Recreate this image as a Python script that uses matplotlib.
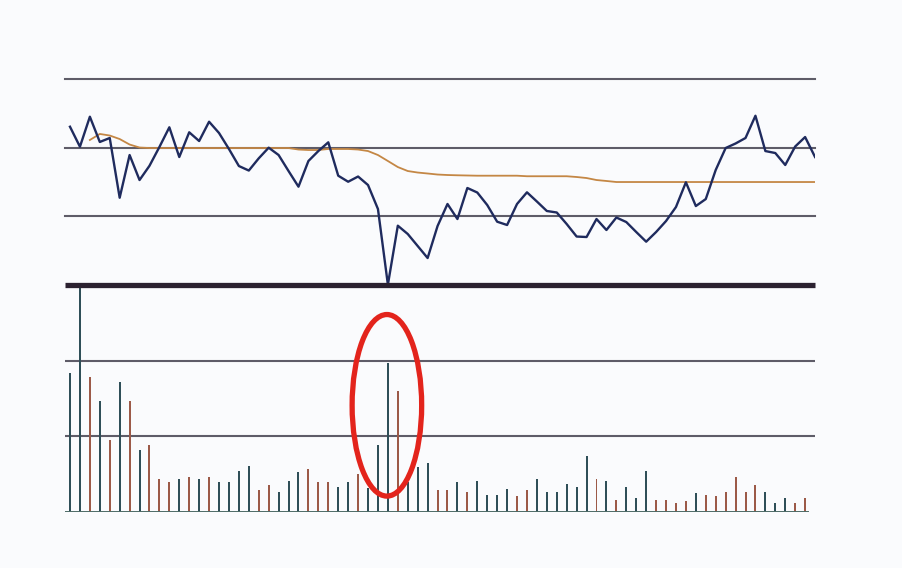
import matplotlib
matplotlib.use("Agg")
import matplotlib.pyplot as plt
from matplotlib.patches import Ellipse

# Price line (one point per trading day)
price = [33.05, 30.14, 34.51, 30.83, 31.41, 22.71, 28.93, 25.29, 27.36, 30.10,
         32.97, 28.64, 32.24, 30.97, 33.78, 32.14, 29.81, 27.33, 26.67, 28.45,
         30.00, 28.93, 26.60, 24.32, 28.06, 29.51, 30.78, 25.92, 25.04, 25.80,
         24.56, 21.07, 10.05, 18.64, 17.43, 15.68, 13.93, 18.59, 21.80, 19.61,
         24.13, 23.47, 21.65, 19.22, 18.74, 21.80, 23.50, 22.16, 20.78, 20.56,
         18.88, 17.06, 16.99, 19.61, 18.01, 19.83, 19.17, 17.72, 16.31, 17.72,
         19.32, 21.36, 24.96, 21.50, 22.52, 26.75, 29.95, 30.61, 31.41, 34.65,
         29.51, 29.22, 27.48, 30.17, 31.55, 28.64]

# Moving average line, starts on day 2
ma_start = 2
ma = [31.12, 32.00, 31.77, 31.26, 30.46, 30.02, 29.95, 29.95, 29.95, 29.95,
      29.95, 29.95, 29.95, 29.95, 29.95, 29.95, 29.95, 29.95, 29.95, 29.95,
      29.95, 29.73, 29.66, 29.66, 29.81, 29.81, 29.81, 29.73, 29.51, 28.93,
      28.06, 27.18, 26.60, 26.38, 26.24, 26.09, 26.02, 25.98, 25.95, 25.92,
      25.92, 25.92, 25.92, 25.92, 25.84, 25.84, 25.84, 25.84, 25.84, 25.73,
      25.58, 25.29, 25.15, 25.00, 25.00, 25.00, 25.00, 25.00, 25.00, 25.00,
      25.00, 25.00, 25.00, 25.00, 25.00, 25.00, 25.00, 25.00, 25.00, 25.00,
      25.00, 25.00, 25.00, 25.00]

# Volume bars
volume = [184.1, 320.0, 178.0, 147.1, 95.2, 171.4, 146.7, 81.9, 88.2, 43.6,
          39.3, 44.0, 46.3, 44.0, 46.3, 40.0, 39.3, 54.2, 60.4, 29.1,
          36.1, 26.0, 40.6, 53.3, 57.2, 39.6, 39.3, 33.0, 39.6, 49.8,
          31.3, 88.9, 197.3, 160.3, 40.0, 59.5, 64.4, 29.1, 29.1, 39.6,
          26.0, 40.6, 22.5, 22.5, 30.0, 21.5, 29.5, 44.0, 26.0, 26.0,
          36.6, 32.6, 74.4, 44.0, 40.6, 15.5, 33.0, 18.9, 54.2, 15.5,
          15.5, 12.3, 14.9, 25.5, 22.5, 21.5, 26.0, 46.7, 26.0, 36.1,
          26.0, 12.3, 18.9, 12.3, 18.9]

highlight = 32  # the volume spike that gets circled

bg = "#fafbfd"
grid_c = "#5e5c68"

fig = plt.figure(figsize=(9.02, 5.68), dpi=100, facecolor=bg)
ax2 = fig.add_axes([0.0721, 0.0986, 0.8315, 0.3996], facecolor="none")
ax1 = fig.add_axes([0.0721, 0.4982, 0.8315, 0.3627], facecolor="none")

# top panel: price and average
days = list(range(len(price)))
ax1.plot(days, price, color="#1f2b5e", lw=1.7, zorder=3)
ax1.plot(list(range(ma_start, ma_start + len(ma))), ma, color="#c48745", lw=1.3, zorder=2)
for y in [20, 30, 40]:
    ax1.axhline(y, color=grid_c, lw=1.5, zorder=1, clip_on=False)
ax1.axhline(10, color="#2b2130", lw=3.8, zorder=4, clip_on=False, solid_capstyle="butt")
ax1.set_xlim(-0.5, 75)
ax1.set_ylim(10, 40)

# bottom panel: volume, coloured by up / down day
colors = ["#2f4f58"]
for i in range(1, len(volume)):
    colors.append("#9c5a48" if price[i] > price[i - 1] else "#2f4f58")
ax2.bar(range(len(volume)), volume, width=0.2, color=colors, zorder=2)
for y in [100, 200]:
    ax2.axhline(y, color=grid_c, lw=1.5, zorder=1)
ax2.axhline(0, xmax=0.99, color="#4d6b66", lw=1.4, zorder=3)
ax2.set_xlim(-0.5, 75)
ax2.set_ylim(0, 300)

ax2.add_patch(Ellipse((highlight - 0.1, 141), width=7.0, height=240,
                      fill=False, edgecolor="#e3241c", lw=3.8, zorder=5, clip_on=False))

for ax in (ax1, ax2):
    for s in ax.spines.values():
        s.set_visible(False)
    ax.set_xticks([])
    ax.set_yticks([])

fig.savefig("out.png", dpi=100, facecolor=bg)
